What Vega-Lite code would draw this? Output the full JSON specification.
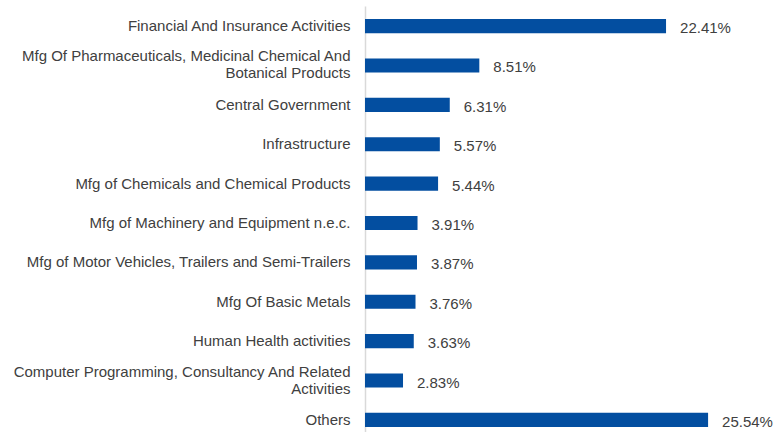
{
  "$schema": "https://vega.github.io/schema/vega-lite/v6.json",
  "autosize": "none",
  "padding": {"left": 365, "top": 6, "right": 6, "bottom": 0},
  "width": 403,
  "height": 434,
  "background": "white",
  "config": {"view": {"stroke": null}, "font": "Liberation Sans"},
  "data": {"values": [
    {"sector": "Financial And Insurance Activities", "share": 0.2241},
    {"sector": "Mfg Of Pharmaceuticals, Medicinal Chemical And|Botanical Products", "share": 0.0851},
    {"sector": "Central Government", "share": 0.0631},
    {"sector": "Infrastructure", "share": 0.0557},
    {"sector": "Mfg of Chemicals and Chemical Products", "share": 0.0544},
    {"sector": "Mfg of Machinery and Equipment n.e.c.", "share": 0.0391},
    {"sector": "Mfg of Motor Vehicles, Trailers and Semi-Trailers", "share": 0.0387},
    {"sector": "Mfg Of Basic Metals", "share": 0.0376},
    {"sector": "Human Health activities", "share": 0.0363},
    {"sector": "Computer Programming, Consultancy And Related|Activities", "share": 0.0283},
    {"sector": "Others", "share": 0.2554}
  ]},
  "encoding": {
    "y": {
      "field": "sector", "type": "nominal", "sort": null,
      "scale": {"paddingInner": 0.64, "paddingOuter": 0.33},
      "axis": {
        "title": null, "ticks": false, "labelPadding": 15,
        "labelExpr": "split(datum.value, '|')",
        "labelOffset": {"condition": {"test": "indexof(datum.value, '|') >= 0", "value": -9}, "value": 0},
        "labelFontSize": 15, "labelColor": "#404040", "labelFont": "Liberation Sans",
        "labelLineHeight": 17, "labelLimit": 400,
        "domainColor": "#d9d9d9", "domainWidth": 1.5
      }
    },
    "x": {
      "field": "share", "type": "quantitative",
      "scale": {"domain": [0, 0.3]},
      "axis": null
    }
  },
  "layer": [
    {"mark": {"type": "bar", "color": "#034ea0"}},
    {
      "mark": {"type": "text", "align": "left", "dx": 14, "dy": 2, "fontSize": 15, "color": "#404040", "font": "Liberation Sans"},
      "encoding": {"text": {"field": "share", "type": "quantitative", "format": ".2%"}}
    }
  ]
}
